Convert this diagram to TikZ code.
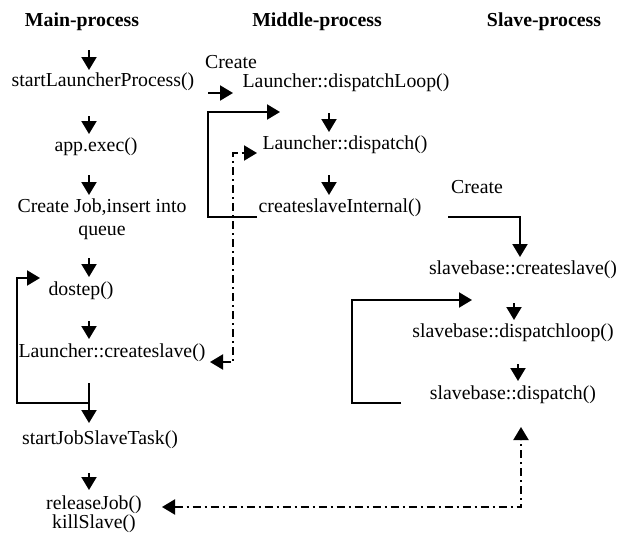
\documentclass[tikz,border=0pt]{standalone}
\usepackage{fontspec}
\setmainfont{Liberation Serif}
\usetikzlibrary{arrows.meta}
\tikzset{
  txt/.style={inner sep=0pt, font=\fontsize{19.8}{23}\selectfont},
  hdr/.style={inner sep=0pt, font=\fontsize{19.8}{23}\selectfont\bfseries},
  tip/.tip={Triangle[length=13pt,width=15pt]},
  arr/.style={line width=2pt, -tip},
  ln/.style={line width=2pt},
  dd/.style={line width=2pt, dash pattern=on 8pt off 4pt on 2pt off 4pt, tip-tip},
}
\begin{document}
\begin{tikzpicture}[x=1pt,y=-1pt]
\useasboundingbox (0,0) rectangle (621,533);
% headers
\node[hdr] (h1) at (82,22) {Main-process};
\node[hdr] (h2) at (317,22) {Middle-process};
\node[hdr] (h3) at (544,22) {Slave-process};
% main column
\node[txt] (startL) at (103,82) {startLauncherProcess()};
\node[txt] (appexec) at (96,147) {app.exec()};
\node[txt,align=center] (cj) at (102,219.5) {Create Job,insert into\\queue};
\node[txt] (dostep) at (81,291) {dostep()};
\node[txt] (lcs) at (112,353) {Launcher::createslave()};
\node[txt] (sjst) at (100,440) {startJobSlaveTask()};
\node[txt,align=center,font=\fontsize{19.8}{19}\selectfont] (rj) at (94,514) {releaseJob()\\killSlave()};
% middle column
\node[txt] (create1) at (231,62) {Create};
\node[txt] (dloop) at (346,83) {Launcher::dispatchLoop()};
\node[txt] (ldisp) at (345,145) {Launcher::dispatch()};
\node[txt] (csi) at (340,208) {createslaveInternal()};
% slave column
\node[txt] (create2) at (477,187) {Create};
\node[txt] (sbcs) at (523,270) {slavebase::createslave()};
\node[txt] (sbdl) at (513,333) {slavebase::dispatchloop()};
\node[txt] (sbd) at (513,395) {slavebase::dispatch()};
% coordinates
\coordinate (m0) at (89,50);
\coordinate (mjoin) at (89,403);
\coordinate (mloopA) at (17,403);
\coordinate (mloopB) at (17,278);
\coordinate (mloopT) at (40,278);
\coordinate (cL) at (208,93);
\coordinate (cR) at (233,93);
\coordinate (dlA) at (257,217);
\coordinate (dlB) at (208,217);
\coordinate (dlC) at (208,112);
\coordinate (dlT) at (280,112);
\coordinate (ddA) at (210,362);
\coordinate (ddB) at (233,362);
\coordinate (ddC) at (233,153);
\coordinate (ddT) at (257,153);
\coordinate (scA) at (448,217);
\coordinate (scB) at (520,217);
\coordinate (scT) at (520,257);
\coordinate (slA) at (401,403);
\coordinate (slB) at (352,403);
\coordinate (slC) at (352,300);
\coordinate (slT) at (472,300);
\coordinate (bdA) at (162,507);
\coordinate (bdB) at (521,507);
\coordinate (bdT) at (521,427);
% main arrows
\draw[arr] (m0) -- (89,70);
\draw[arr] (89,116) -- (89,134);
\draw[arr] (89,175) -- (89,195);
\draw[arr] (89,258) -- (89,277);
\draw[arr] (89,321) -- (89,339);
\draw[arr] (89,383) -- (89,423);
\draw[arr] (89,473) -- (89,490);
\draw[arr] (mjoin) -- (mloopA) -- (mloopB) -- (mloopT);
% middle arrows
\draw[arr] (cL) -- (cR);
\draw[arr] (dlA) -- (dlB) -- (dlC) -- (dlT);
\draw[arr] (329,113) -- (329,132);
\draw[arr] (329,175) -- (329,195);
\draw[dd] (ddA) -- (ddB) -- (ddC) -- (ddT);
% slave arrows
\draw[arr] (scA) -- (scB) -- (scT);
\draw[arr] (slA) -- (slB) -- (slC) -- (slT);
\draw[arr] (514,303) -- (514,320);
\draw[arr] (518,364) -- (518,381);
\draw[dd] (bdA) -- (bdB) -- (bdT);
\end{tikzpicture}
\end{document}
